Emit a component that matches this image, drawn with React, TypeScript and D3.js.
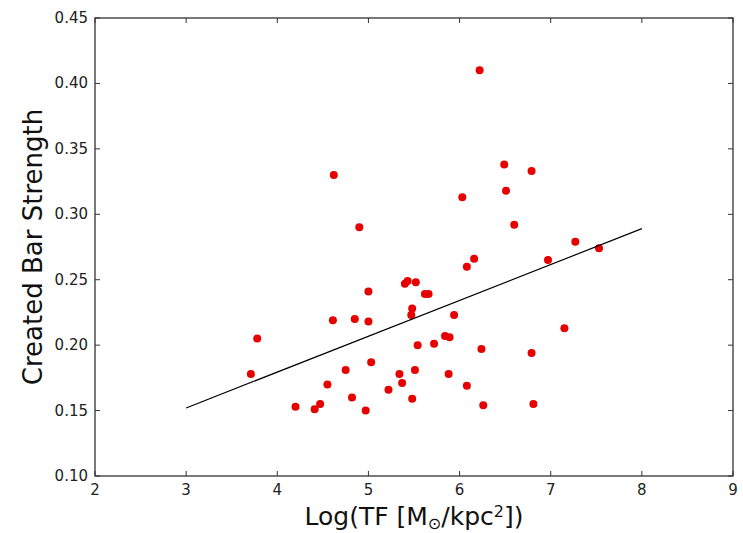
import React from "react";
import * as d3 from "d3";

// log total surface density of the tidal field
const logTF = [
  3.71, 3.78, 4.2, 4.41, 4.47, 4.55, 4.61, 4.62, 4.75, 4.82, 4.85, 4.9, 4.97,
  5.0, 5.0, 5.03, 5.22, 5.34, 5.37, 5.4, 5.43, 5.47, 5.48, 5.48, 5.51, 5.52,
  5.54, 5.62, 5.66, 5.72, 5.84, 5.89, 5.88, 5.94, 6.03, 6.08, 6.08, 6.16, 6.22,
  6.24, 6.26, 6.49, 6.51, 6.6, 6.79, 6.79, 6.81, 6.97, 7.15, 7.27, 7.53,
];
const barStrength = [
  0.178, 0.205, 0.153, 0.151, 0.155, 0.17, 0.219, 0.33, 0.181, 0.16, 0.22, 0.29,
  0.15, 0.241, 0.218, 0.187, 0.166, 0.178, 0.171, 0.247, 0.249, 0.223, 0.228,
  0.159, 0.181, 0.248, 0.2, 0.239, 0.239, 0.201, 0.207, 0.206, 0.178, 0.223,
  0.313, 0.26, 0.169, 0.266, 0.41, 0.197, 0.154, 0.338, 0.318, 0.292, 0.333,
  0.194, 0.155, 0.265, 0.213, 0.279, 0.274,
];

// linear fit drawn from x=3 to x=8
const fitX = [3, 8];
const fitSlope = 0.0274;
const fitIntercept = 0.0698;

const xTicks = [2, 3, 4, 5, 6, 7, 8, 9];
const yTicks = [0.1, 0.15, 0.2, 0.25, 0.3, 0.35, 0.4, 0.45];

const W = 743;
const H = 533;
const margin = { left: 95, top: 18, right: 10, bottom: 57 };

export default function App() {
  const x = d3.scaleLinear().domain([2, 9]).range([margin.left, W - margin.right]);
  const y = d3.scaleLinear().domain([0.1, 0.45]).range([H - margin.bottom, margin.top]);
  const [x0, x1] = x.range();
  const [y0, y1] = y.range();

  const line = d3
    .line<number>()
    .x((d) => x(d))
    .y((d) => y(fitSlope * d + fitIntercept));

  const tickLen = 5;
  const font = "'DejaVu Sans', sans-serif";

  return (
    <svg
      width={W}
      height={H}
      style={{ position: "absolute", left: 0, top: 0, background: "#fff" }}
      fontFamily={font}
    >
      {/* points */}
      {logTF.map((v, i) => (
        <circle key={i} cx={x(v)} cy={y(barStrength[i])} r={4} fill="#e60000" />
      ))}

      <path d={line(fitX) || ""} fill="none" stroke="#000" strokeWidth={1.2} />

      {/* frame */}
      <rect x={x0} y={y1} width={x1 - x0} height={y0 - y1} fill="none" stroke="#333" strokeWidth={1.3} />

      {/* x ticks, inward on bottom and top */}
      {xTicks.map((t) => (
        <g key={"x" + t}>
          <line x1={x(t)} x2={x(t)} y1={y0} y2={y0 - tickLen} stroke="#333" />
          <line x1={x(t)} x2={x(t)} y1={y1} y2={y1 + tickLen} stroke="#333" />
          <text x={x(t)} y={y0 + 19} textAnchor="middle" fontSize={15} fill="#222">
            {t}
          </text>
        </g>
      ))}

      {/* y ticks, inward on left and right */}
      {yTicks.map((t) => (
        <g key={"y" + t}>
          <line x1={x0} x2={x0 + tickLen} y1={y(t)} y2={y(t)} stroke="#333" />
          <line x1={x1} x2={x1 - tickLen} y1={y(t)} y2={y(t)} stroke="#333" />
          <text x={x0 - 7} y={y(t) + 5} textAnchor="end" fontSize={15} fill="#222">
            {t.toFixed(2)}
          </text>
        </g>
      ))}

      <text
        transform={`translate(42, ${(y0 + y1) / 2}) rotate(-90)`}
        textAnchor="middle"
        fontSize={26}
        fill="#111"
      >
        Created Bar Strength
      </text>

      <text x={(x0 + x1) / 2} y={525} textAnchor="middle" fontSize={25} fill="#111">
        Log(TF [M
        <tspan fontSize={16} dy={4}>⊙</tspan>
        <tspan dy={-4}>/kpc</tspan>
        <tspan fontSize={16} dy={-8}>2</tspan>
        <tspan dy={8}>])</tspan>
      </text>
    </svg>
  );
}
